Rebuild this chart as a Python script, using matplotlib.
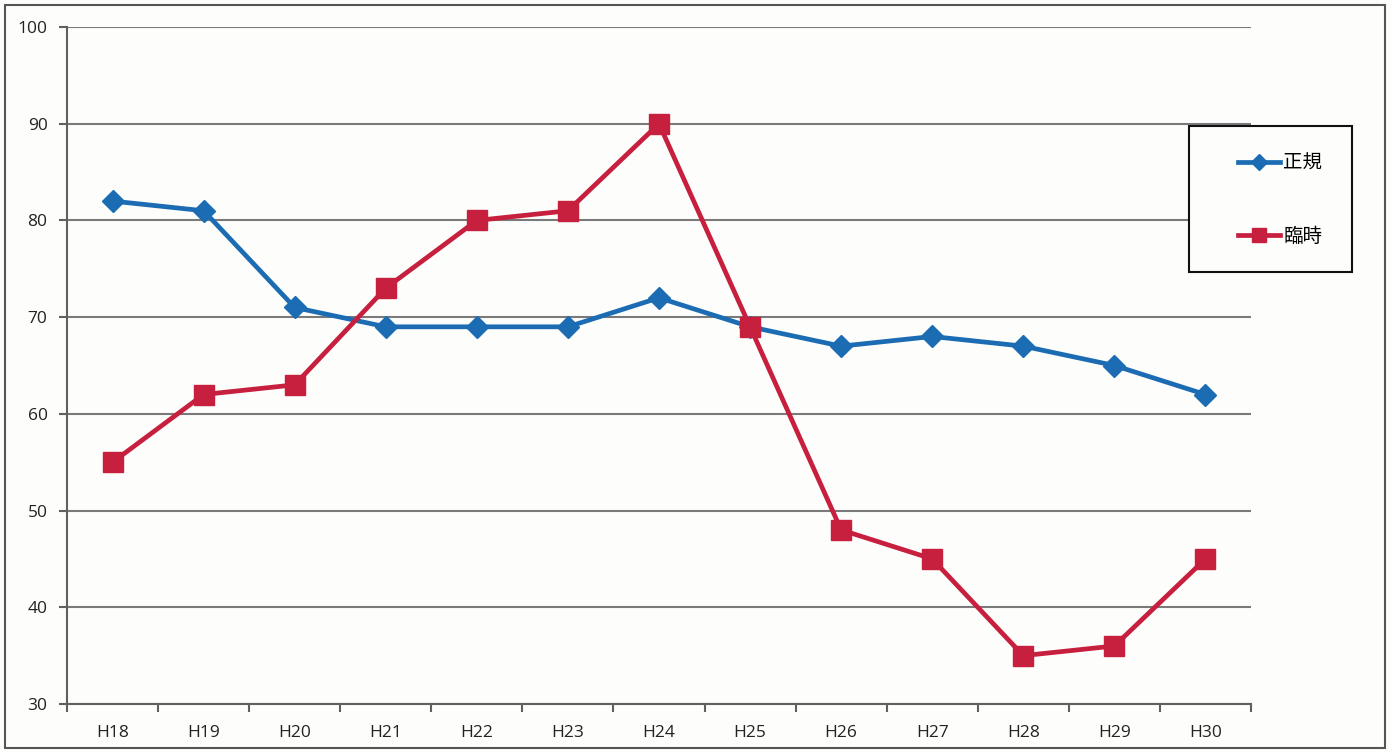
import matplotlib
matplotlib.use("Agg")
import matplotlib.pyplot as plt
from matplotlib.patches import Rectangle
import numpy as np

categories = ["H18", "H19", "H20", "H21", "H22", "H23", "H24", "H25", "H26", "H27", "H28", "H29", "H30"]
seiki = [82, 81, 71, 69, 69, 69, 72, 69, 67, 68, 67, 65, 62]
rinji = [55, 62, 63, 73, 80, 81, 90, 69, 48, 45, 35, 36, 45]
series_names = ["正規", "臨時"]
y_ticks = [30, 40, 50, 60, 70, 80, 90, 100]

plt.rcParams['font.family'] = ['Noto Sans CJK JP', 'DejaVu Sans']

W, H = 1392, 753
fig = plt.figure(figsize=(W / 100, H / 100), dpi=100)
fig.patch.set_facecolor('#fdfdfb')

ax = fig.add_axes([67 / W, 1 - 704 / H, (1251 - 67) / W, (704 - 27) / H])
ax.set_facecolor('none')

x = np.arange(len(categories))
blue = '#1c6cb4'
red = '#c71f3e'
ax.plot(x, seiki, color=blue, lw=3.4, marker='D', markersize=11, label=series_names[0], zorder=3)
ax.plot(x, rinji, color=red, lw=3.4, marker='s', markersize=14, label=series_names[1], zorder=4)

ax.set_xlim(-0.5, len(categories) - 0.5)
ax.set_ylim(30, 100)
ax.set_yticks(y_ticks)
ax.set_yticklabels([str(v) for v in y_ticks], fontsize=12.5, family=['Open Sans', 'DejaVu Sans'], color='#222222')
ax.set_xticks(x)
ax.set_xticklabels(categories, fontsize=12.5, family=['Open Sans', 'DejaVu Sans'], color='#222222')
ax.tick_params(axis='x', which='major', length=0, pad=15)
ax.set_xticks(np.arange(-0.5, len(categories), 1), minor=True)
ax.tick_params(axis='x', which='minor', length=6, width=1.5, color='#606060', direction='out')
ax.tick_params(axis='y', length=6, width=1.5, color='#606060', pad=8)
ax.grid(axis='y', color='#7a7a7a', lw=1.5)
for s in ['top', 'right']:
    ax.spines[s].set_visible(False)
for s in ['left', 'bottom']:
    ax.spines[s].set_color('#606060')
    ax.spines[s].set_linewidth(1.5)

# legend box
fig.patches.append(Rectangle((1189 / W, 1 - 272 / H), (1352 - 1189) / W, (272 - 126) / H,
                             transform=fig.transFigure, facecolor='#fdfdfb', edgecolor='#111111',
                             lw=1.5, zorder=5))
leg = fig.legend(loc='center left', bbox_to_anchor=(1220 / W, 1 - 200 / H), frameon=False,
                 prop={'size': 14}, labelspacing=2.7, handlelength=2.2, handletextpad=0.15,
                 markerscale=0.7)
leg.set_zorder(6)

# outer frame
fig.patches.append(Rectangle((5 / W, 5 / H), (1385 - 5) / W, (748 - 5) / H,
                             transform=fig.transFigure, facecolor='none', edgecolor='#555555',
                             lw=1.5, zorder=0))

fig.savefig('out.png', dpi=100, facecolor=fig.get_facecolor())
